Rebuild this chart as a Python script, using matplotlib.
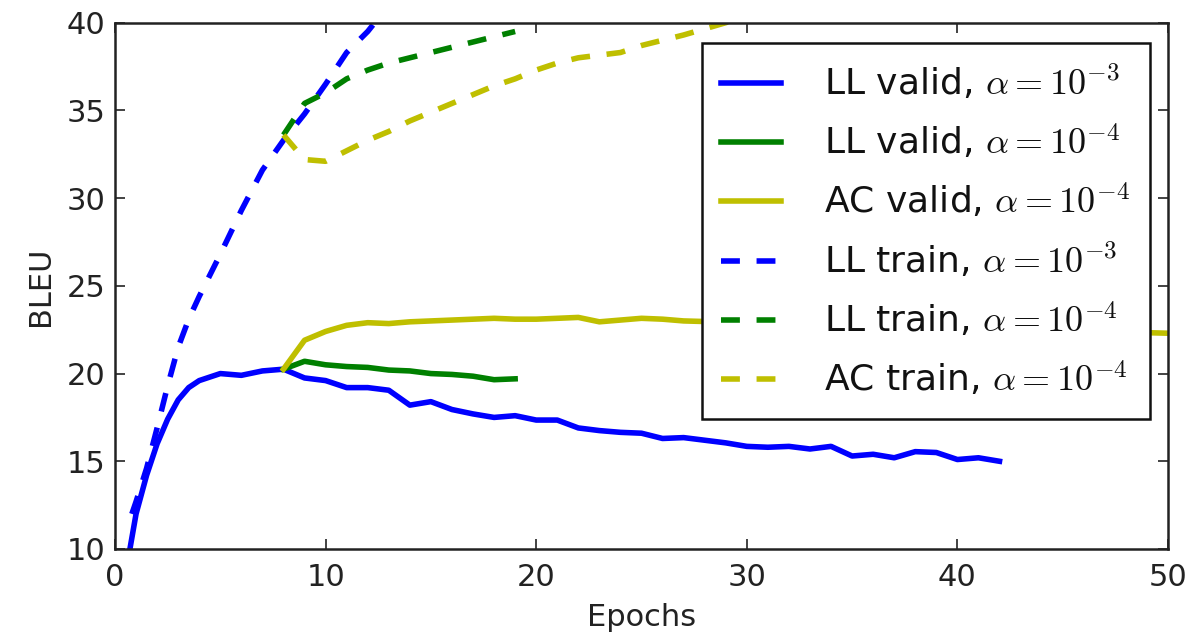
import matplotlib
matplotlib.use("Agg")
import matplotlib.pyplot as plt

plt.rcParams['mathtext.fontset'] = 'cm'
plt.rcParams['font.family'] = ['DejaVu Sans']

# ---- data ----
ll_valid_3_x = [0.65, 1, 1.5, 2, 2.5, 3, 3.5, 4, 5, 6, 7, 8, 9, 10, 11, 12, 13, 14, 15, 16,
                17, 18, 19, 20, 21, 22, 23, 24, 25, 26, 27, 28, 29, 30, 31, 32, 33, 34,
                35, 36, 37, 38, 39, 40, 41, 42]
ll_valid_3_y = [9.6, 12.0, 14.2, 16.0, 17.4, 18.5, 19.2, 19.6, 20.0, 19.9, 20.15, 20.25,
                19.75, 19.6, 19.2, 19.2, 19.05, 18.2, 18.4, 17.95, 17.7, 17.5, 17.6, 17.35,
                17.35, 16.9, 16.75, 16.65, 16.6, 16.3, 16.35, 16.2, 16.05, 15.85, 15.8,
                15.85, 15.7, 15.85, 15.3, 15.4, 15.2, 15.55, 15.5, 15.1, 15.2, 15.0]

ll_valid_4_x = [8, 9, 10, 11, 12, 13, 14, 15, 16, 17, 18, 19]
ll_valid_4_y = [20.25, 20.7, 20.5, 20.4, 20.35, 20.2, 20.15, 20.0, 19.95, 19.85, 19.65, 19.7]

ac_valid_4_x = [8, 9, 10, 11, 12, 13, 14, 15, 16, 17, 18, 19, 20, 21, 22, 23, 24, 25,
                26, 27, 30, 35, 40, 45, 50]
ac_valid_4_y = [20.25, 21.9, 22.4, 22.75, 22.9, 22.85, 22.95, 23.0, 23.05, 23.1, 23.15,
                23.1, 23.1, 23.15, 23.2, 22.95, 23.05, 23.15, 23.1, 23.0, 22.9, 22.8,
                22.6, 22.45, 22.3]

ll_train_3_x = [0.8, 1, 1.5, 2, 2.5, 3, 3.5, 4, 5, 6, 7, 8, 9, 10, 11, 12, 13]
ll_train_3_y = [12.0, 12.7, 14.6, 16.9, 19.3, 21.5, 23.1, 24.4, 26.8, 29.3, 31.6, 33.3,
                34.8, 36.5, 38.3, 39.5, 41.0]

ll_train_4_x = [8, 9, 10, 11, 12, 13, 14, 15, 16, 17, 18, 19]
ll_train_4_y = [33.6, 35.4, 36.0, 36.8, 37.3, 37.7, 38.0, 38.3, 38.6, 38.9, 39.2, 39.5]

ac_train_4_x = [8, 9, 10, 11, 12, 13, 14, 15, 16, 17, 18, 19, 20, 21, 22, 23, 24, 25,
                26, 27, 28, 29, 30]
ac_train_4_y = [33.6, 32.2, 32.1, 32.7, 33.3, 33.8, 34.4, 34.9, 35.4, 35.9, 36.4, 36.8,
                37.3, 37.7, 38.0, 38.15, 38.3, 38.7, 39.0, 39.3, 39.65, 40.0, 40.4]

labels = [r'LL valid, $\alpha=10^{-3}$', r'LL valid, $\alpha=10^{-4}$',
          r'AC valid, $\alpha=10^{-4}$', r'LL train, $\alpha=10^{-3}$',
          r'LL train, $\alpha=10^{-4}$', r'AC train, $\alpha=10^{-4}$']

x_ticks = [0, 10, 20, 30, 40, 50]
y_ticks = [10, 15, 20, 25, 30, 35, 40]

BLUE = (0, 0, 1)
GREEN = (0, 0.5, 0)
YELLOW = (0.75, 0.75, 0)

fig = plt.figure(figsize=(11.91, 6.39), dpi=100)
ax = fig.add_axes([115 / 1191, 1 - 549 / 639, (1168 - 115) / 1191, (549 - 22.7) / 639])

lw = 4.0
dash = (0, (3.4, 3.0))
ax.plot(ll_valid_3_x, ll_valid_3_y, color=BLUE, lw=lw, label=labels[0])
ax.plot(ll_valid_4_x, ll_valid_4_y, color=GREEN, lw=lw, label=labels[1])
ax.plot(ac_valid_4_x, ac_valid_4_y, color=YELLOW, lw=lw, label=labels[2])
ax.plot(ll_train_3_x, ll_train_3_y, color=BLUE, lw=lw, ls=dash, label=labels[3])
ax.plot(ll_train_4_x, ll_train_4_y, color=GREEN, lw=lw, ls=dash, label=labels[4])
ax.plot(ac_train_4_x, ac_train_4_y, color=YELLOW, lw=lw, ls=dash, label=labels[5])

ax.set_xlim(0, 50)
ax.set_ylim(10, 40)
ax.set_xticks(x_ticks)
ax.set_yticks(y_ticks)
ax.tick_params(direction='in', length=7, width=1.2, top=True, right=True,
               labelsize=22, colors='#222222', labelcolor='#222222')
ax.tick_params(axis='x', pad=10)
ax.tick_params(axis='y', pad=7)
for s in ax.spines.values():
    s.set_linewidth(1.8)
    s.set_color('#222222')

ax.set_xlabel('Epochs', fontsize=22, color='#222222', labelpad=8)
ax.set_ylabel('BLEU', fontsize=22, color='#222222', labelpad=8)

leg = ax.legend(loc='upper right', bbox_to_anchor=(0.983, 0.9614), borderaxespad=0,
                fontsize=26, fancybox=False, framealpha=1, edgecolor='#111111',
                handlelength=1.65, handletextpad=1.2, borderpad=0.55, labelspacing=0.56)
leg.get_frame().set_linewidth(1.8)
for t in leg.get_texts():
    t.set_color('#111111')

fig.savefig('out.png', dpi=100)
